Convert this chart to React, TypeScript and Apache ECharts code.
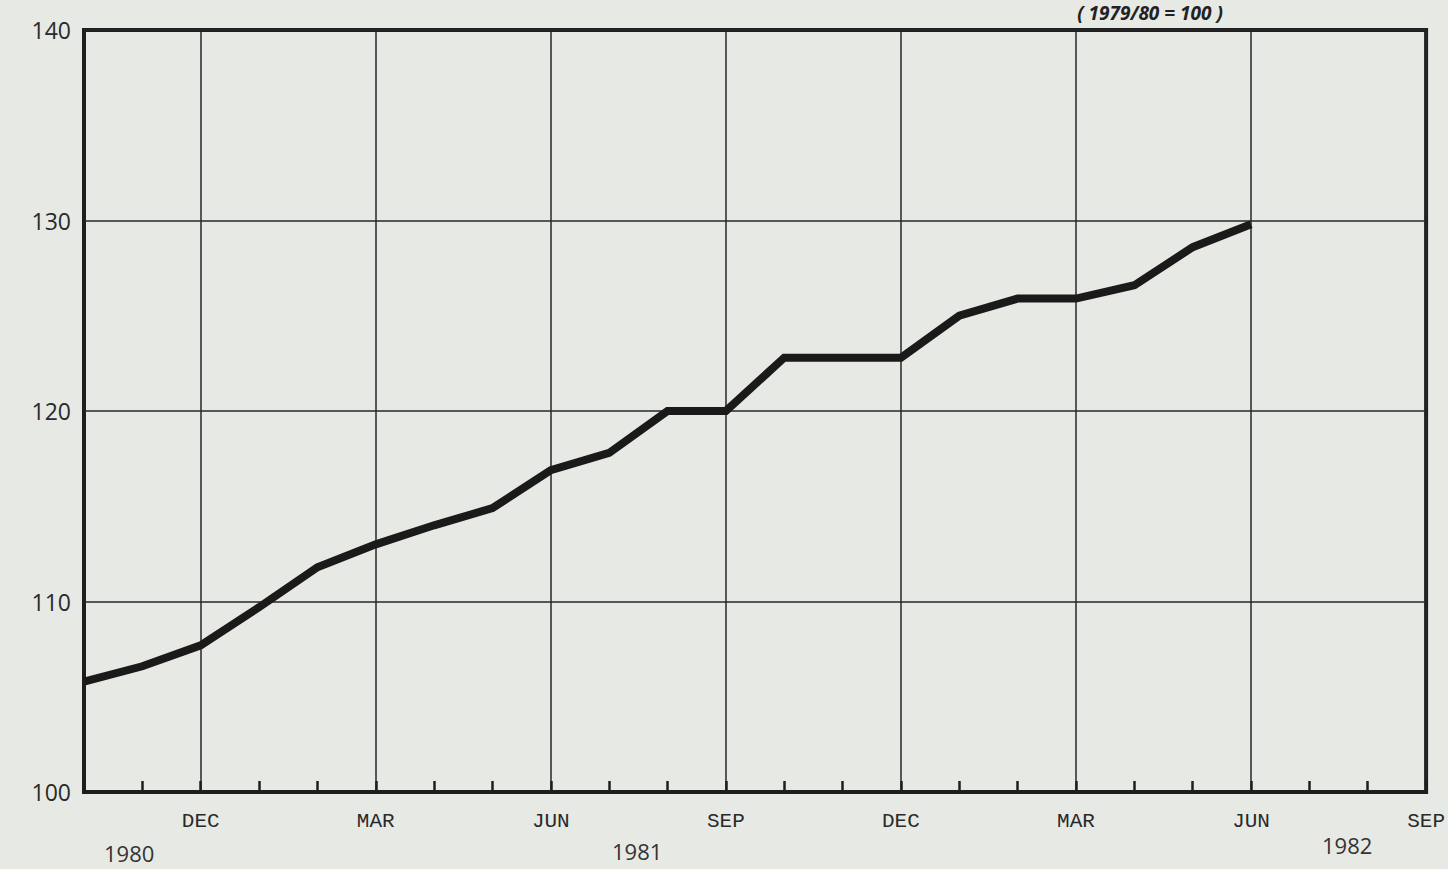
import React, { useEffect, useRef } from "react";
import * as echarts from "echarts";

const categories = [
  "OCT 1980", "NOV 1980", "DEC 1980",
  "JAN 1981", "FEB 1981", "MAR 1981", "APR 1981", "MAY 1981", "JUN 1981",
  "JUL 1981", "AUG 1981", "SEP 1981", "OCT 1981", "NOV 1981", "DEC 1981",
  "JAN 1982", "FEB 1982", "MAR 1982", "APR 1982", "MAY 1982", "JUN 1982",
  "JUL 1982", "AUG 1982", "SEP 1982",
];

const indexValues: (number | null)[] = [
  105.8, 106.6, 107.7,
  109.7, 111.8, 113.0, 114.0, 114.9, 116.9,
  117.8, 120.0, 120.0, 122.8, 122.8, 122.8,
  125.0, 125.9, 125.9, 126.6, 128.6, 129.8,
  null, null, null,
];

const yearLabels = ["1980", "1981", "1982"];
const baseNote = "( 1979/80 = 100 )";

const isQuarter = (i: number) => i % 3 === 2;

export default function App() {
  const ref = useRef<HTMLDivElement>(null);
  useEffect(() => {
    if (!ref.current) return;
    const chart = echarts.init(ref.current, null, { renderer: "svg" });
    const ink = "#1e1e1e";
    chart.setOption({
      animation: false,
      backgroundColor: "#e7e9e5",
      grid: {
        left: 84,
        right: 21,
        top: 30,
        bottom: 77,
        show: true,
        borderColor: ink,
        borderWidth: 4,
        backgroundColor: "transparent",
      },
      xAxis: {
        type: "category",
        data: categories,
        boundaryGap: false,
        axisLine: { show: true, lineStyle: { color: ink, width: 4 } },
        axisTick: {
          show: true,
          interval: 0,
          inside: true,
          length: 11,
          lineStyle: { color: ink, width: 2.5 },
        },
        axisLabel: {
          interval: (i: number) => isQuarter(i),
          formatter: (v: string) => v.split(" ")[0],
          fontFamily: "Liberation Mono, DejaVu Sans Mono, monospace",
          fontSize: 21,
          color: "#2a2a2a",
          margin: 19,
        },
        splitLine: {
          show: true,
          interval: (i: number) => isQuarter(i),
          lineStyle: { color: "#262626", width: 1.5 },
        },
      },
      yAxis: {
        type: "value",
        min: 100,
        max: 140,
        interval: 10,
        axisLine: { show: false },
        axisTick: { show: false },
        axisLabel: {
          fontFamily: "Open Sans, Noto Sans, sans-serif",
          fontSize: 23,
          color: "#2a2a2a",
          margin: 13,
        },
        splitLine: { show: true, lineStyle: { color: "#262626", width: 1.5 } },
      },
      series: [
        {
          type: "line",
          data: indexValues,
          showSymbol: false,
          symbol: "none",
          lineStyle: { color: "#1a1a1a", width: 8, join: "miter" },
          connectNulls: false,
        },
      ],
      graphic: [
        {
          type: "text",
          left: 104,
          top: 842,
          style: { text: yearLabels[0], font: "22px 'Open Sans', sans-serif", fill: "#333" },
        },
        {
          type: "text",
          left: 612,
          top: 840,
          style: { text: yearLabels[1], font: "22px 'Open Sans', sans-serif", fill: "#333" },
        },
        {
          type: "text",
          left: 1322,
          top: 834,
          style: { text: yearLabels[2], font: "22px 'Open Sans', sans-serif", fill: "#333" },
        },
        {
          type: "text",
          x: 1150,
          y: 3,
          style: {
            text: baseNote,
            font: "italic bold 19px 'Open Sans', sans-serif",
            fill: "#222",
            align: "center",
            verticalAlign: "top",
          },
        },
      ],
    });
    return () => chart.dispose();
  }, []);
  return (
    <div
      ref={ref}
      style={{ position: "fixed", left: 0, top: 0, width: 1448, height: 869 }}
    />
  );
}
